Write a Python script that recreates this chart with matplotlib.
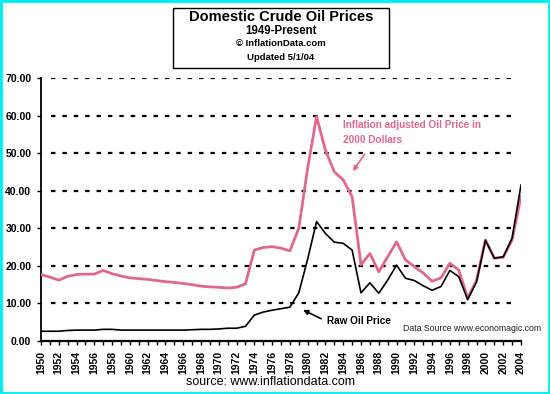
import matplotlib
matplotlib.use("Agg")
import matplotlib.pyplot as plt
from matplotlib.patches import Rectangle
from matplotlib.ticker import MultipleLocator, FormatStrFormatter

plt.rcParams["font.family"] = ["Liberation Sans", "DejaVu Sans"]
plt.rcParams["lines.scale_dashes"] = False

# -------------------------------
# Data (dollars per barrel)
# -------------------------------
years = list(range(1950, 2005))

raw_price = [
    2.6, 2.6, 2.6, 2.8, 2.9, 2.9, 2.9, 3.1, 3.1, 2.9,
    2.9, 2.9, 2.9, 2.9, 2.9, 2.9, 2.9, 3.0, 3.1, 3.1,
    3.2, 3.4, 3.4, 3.9, 6.9, 7.7, 8.2, 8.6, 9.0, 12.8,
    21.8, 31.8, 28.6, 26.3, 26.0, 24.2, 12.8, 15.5, 12.7, 16.2,
    20.2, 16.7, 16.1, 14.7, 13.5, 14.5, 18.8, 17.1, 11.0, 15.7,
    26.8, 22.0, 22.4, 27.4, 41.5,
]

adjusted_price = [
    17.7, 17.0, 16.2, 17.2, 17.7, 17.8, 17.8, 18.8, 17.9, 17.3,
    16.8, 16.6, 16.4, 16.1, 15.8, 15.6, 15.3, 15.0, 14.6, 14.4,
    14.3, 14.1, 14.3, 15.2, 24.2, 24.9, 25.1, 24.7, 24.0, 30.0,
    46.0, 59.7, 50.8, 45.0, 42.9, 38.4, 20.3, 23.3, 18.4, 22.4,
    26.4, 21.6, 19.8, 18.1, 15.9, 16.8, 20.7, 18.9, 11.4, 16.2,
    26.9, 22.1, 22.3, 26.9, 38.5,
]

year_labels = [str(y) for y in range(1950, 2005, 2)]

PINK = "#e0688f"

# -------------------------------
# Figure
# -------------------------------
fig = plt.figure(figsize=(5.5, 3.94), dpi=100)
ax = fig.add_axes([41 / 550, 53 / 394, 480 / 550, 263 / 394])

ax.set_xlim(1950, 2004)
ax.set_ylim(0, 70)

for level in range(10, 80, 10):
    ax.axhline(level, xmin=0.02, xmax=0.99, color="black", lw=1.6,
               dashes=(3.2, 5.0), zorder=1)

ax.plot(years, adjusted_price, color=PINK, lw=2.0, zorder=3)
ax.plot(years, raw_price, color="black", lw=1.2, zorder=4)

for side in ["top", "right"]:
    ax.spines[side].set_visible(False)
ax.spines["left"].set_linewidth(1.3)
ax.spines["bottom"].set_linewidth(1.6)

ax.xaxis.set_major_locator(MultipleLocator(2))
ax.xaxis.set_minor_locator(MultipleLocator(1))
ax.set_xticks(range(1950, 2005, 2))
ax.set_xticklabels(year_labels, rotation=90, fontsize=7.5, fontweight="bold")
ax.tick_params(axis="x", which="both", direction="out", length=3, width=1, pad=4)

ax.yaxis.set_major_locator(MultipleLocator(10))
ax.yaxis.set_major_formatter(FormatStrFormatter("%.2f"))
ax.tick_params(axis="y", direction="out", length=3, width=1, pad=4,
               labelsize=7.5)
for lab in ax.get_yticklabels():
    lab.set_fontweight("bold")

# -------------------------------
# Annotations
# -------------------------------
ax.text(1984.0, 57.5, "Inflation adjusted Oil Price in", color=PINK,
        fontsize=7.2, fontweight="bold", va="center", ha="left", clip_on=False)
ax.text(1984.0, 53.6, "2000 Dollars", color=PINK,
        fontsize=7.2, fontweight="bold", va="center", ha="left")
ax.annotate("", xy=(1984.9, 44.6), xytext=(1986.6, 50.3),
            arrowprops=dict(arrowstyle="-|>", color=PINK, lw=1.2,
                            mutation_scale=7))

ax.text(1982.2, 5.3, "Raw Oil Price", color="black", fontsize=7.2,
        fontweight="bold", va="center", ha="left")
ax.annotate("", xy=(1979.2, 8.6), xytext=(1981.8, 5.6),
            arrowprops=dict(arrowstyle="-|>", color="black", lw=1.2,
                            mutation_scale=7))

ax.text(1990.7, 3.2, "Data Source www.economagic.com", color="#222222",
        fontsize=6.3, va="center", ha="left", clip_on=False)

# -------------------------------
# Title box and source line
# -------------------------------
fig.patches.append(Rectangle((173 / 550, 1 - 68 / 394), 216 / 550, 60 / 394,
                             transform=fig.transFigure, fill=False,
                             edgecolor="black", lw=1.0))
fig.text(281 / 550, 1 - 17 / 394, "Domestic Crude Oil Prices", ha="center",
         va="center", fontsize=10.5, fontweight="bold")
fig.text(281 / 550, 1 - 31 / 394, "1949-Present", ha="center",
         va="center", fontsize=8.3, fontweight="bold")
fig.text(281 / 550, 1 - 44 / 394, "\u00a9 InflationData.com", ha="center",
         va="center", fontsize=6.8, fontweight="bold")
fig.text(281 / 550, 1 - 57 / 394, "Updated 5/1/04", ha="center",
         va="center", fontsize=6.8, fontweight="bold")

fig.text(270 / 550, 1 - 382 / 394, "source: www.inflationdata.com",
         ha="center", va="center", fontsize=9)

# cyan frame around the image
fig.patches.append(Rectangle((0, 0), 1, 1, transform=fig.transFigure,
                             fill=False, edgecolor="#00f0f0", lw=3.5))

fig.savefig("out.png", dpi=100)
